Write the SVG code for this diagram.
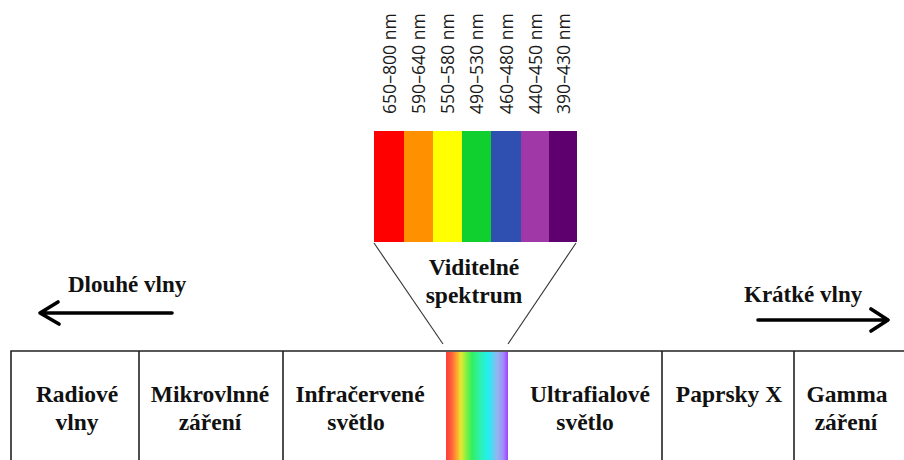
<svg xmlns="http://www.w3.org/2000/svg" width="904" height="460" viewBox="0 0 904 460">
<style>
.lbl{font-family:"Liberation Serif","Times New Roman",serif;font-weight:bold;font-size:23.5px;fill:#111;text-anchor:middle}
.side{font-family:"Liberation Serif","Times New Roman",serif;font-weight:bold;font-size:23px;fill:#111}
.nm{font-family:"Open Sans","Noto Sans",sans-serif;font-size:17.6px;fill:#1a1a1a}
.box{stroke:#222;stroke-width:1.6;fill:none}
.arr{stroke:#000;stroke-width:3.6;fill:none;stroke-linecap:round;stroke-linejoin:round}
.fan{stroke:#333;stroke-width:1.1;fill:none}
</style>
<defs>
<linearGradient id="rainbow" x1="0" y1="0" x2="1" y2="0">
<stop offset="0" stop-color="#ff3c3c"/>
<stop offset="0.08" stop-color="#ff5a3a"/>
<stop offset="0.16" stop-color="#ff9a30"/>
<stop offset="0.24" stop-color="#e8e830"/>
<stop offset="0.32" stop-color="#8cf040"/>
<stop offset="0.42" stop-color="#30f060"/>
<stop offset="0.55" stop-color="#30f0b0"/>
<stop offset="0.68" stop-color="#20f0f0"/>
<stop offset="0.82" stop-color="#90b8f0"/>
<stop offset="0.92" stop-color="#a090f8"/>
<stop offset="1" stop-color="#a040ff"/>
</linearGradient>
</defs>
<rect width="904" height="460" fill="#fff"/>

<g id="visible-spectrum">
<rect x="374" y="131" width="30" height="111" fill="#ff0000"/>
<rect x="404" y="131" width="29" height="111" fill="#ff9000"/>
<rect x="433" y="131" width="29" height="111" fill="#ffff00"/>
<rect x="462" y="131" width="29" height="111" fill="#10d030"/>
<rect x="491" y="131" width="30" height="111" fill="#2f50b0"/>
<rect x="521" y="131" width="28" height="111" fill="#a038a8"/>
<rect x="549" y="131" width="28" height="111" fill="#5e006e"/>
<g class="nm">
<text transform="translate(396,114) rotate(-90)">650–800 nm</text>
<text transform="translate(425,114) rotate(-90)">590–640 nm</text>
<text transform="translate(454,114) rotate(-90)">550–580 nm</text>
<text transform="translate(483,114) rotate(-90)">490–530 nm</text>
<text transform="translate(513,114) rotate(-90)">460–480 nm</text>
<text transform="translate(542,114) rotate(-90)">440–450 nm</text>
<text transform="translate(570,114) rotate(-90)">390–430 nm</text>
</g>
<text class="lbl" x="474" y="275">Viditelné</text>
<text class="lbl" x="474" y="303">spektrum</text>
</g>

<g id="long-waves">
<text class="side" x="68" y="292">Dlouhé vlny</text>
</g>
<g id="short-waves">
<text class="side" x="744" y="302">Krátké vlny</text>
</g>

<g id="connectors">
<line class="fan" x1="374" y1="243" x2="443" y2="344"/>
<line class="fan" x1="576" y1="243" x2="508" y2="344"/>
<path class="arr" d="M172 313 H40 M58 302 L40 313 L59 324"/>
<path class="arr" d="M758 320 H888 M871 309 L888 320 L871 331"/>
</g>

<g id="strip">
<rect x="446" y="352" width="62" height="108" fill="url(#rainbow)"/>
</g>

<g id="frame">
<path class="box" d="M11 460 V351 H904 M139 351 V460 M283 351 V460 M662 351 V460 M794 351 V460"/>
</g>

<g id="radio"><text class="lbl" x="77" y="402">Radiové</text><text class="lbl" x="77" y="430">vlny</text></g>
<g id="microwave"><text class="lbl" x="210" y="402">Mikrovlnné</text><text class="lbl" x="210" y="430">záření</text></g>
<g id="infrared"><text class="lbl" x="360" y="402">Infračervené</text><text class="lbl" x="356" y="430">světlo</text></g>
<g id="ultraviolet"><text class="lbl" x="590" y="402">Ultrafialové</text><text class="lbl" x="585" y="430">světlo</text></g>
<g id="xray"><text class="lbl" x="729" y="402">Paprsky X</text></g>
<g id="gamma"><text class="lbl" x="847" y="402">Gamma</text><text class="lbl" x="846" y="430">záření</text></g>
</svg>
